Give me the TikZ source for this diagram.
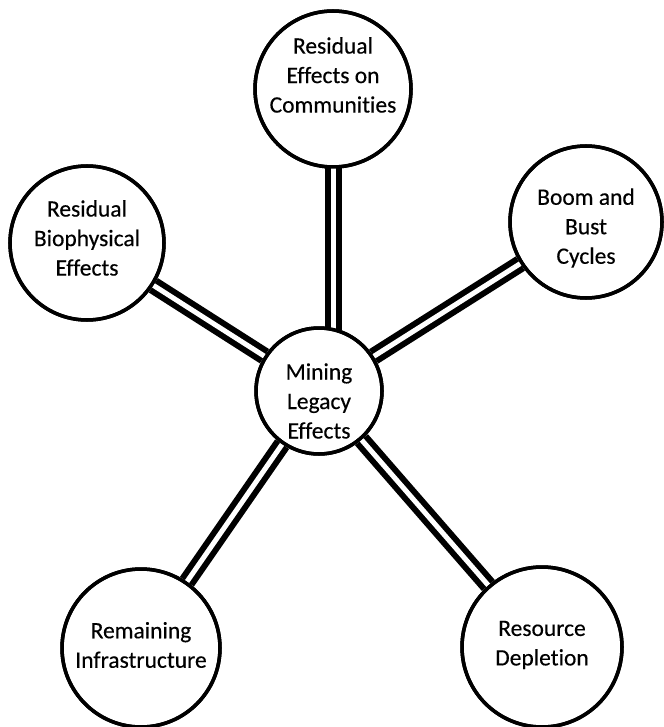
\documentclass[tikz,border=0pt]{standalone}
\usepackage{fontspec}
\setmainfont[Ligatures=NoCommon,FakeBold=0.3]{Carlito}
\begin{document}
\begin{tikzpicture}[x=1pt,y=-1pt,
  bubble/.style={circle,draw=black,line width=3.5pt,fill=white,inner sep=0pt},
  ring/.style={circle,draw=black,line width=3.5pt,inner sep=0pt},
  label/.style={align=center,font=\fontsize{23.5}{29.5}\selectfont,inner sep=0pt},
  conn/.style={draw=black,line width=6pt,double=white,double distance=5pt}]
\useasboundingbox (0,0) rectangle (663,727);
% circles
\node[bubble,minimum size=156pt] (top) at (333,89) {};
\node[bubble,minimum size=126pt] (c) at (319,391) {};
\node[bubble,minimum size=154pt] (lt) at (87,243) {};
\node[bubble,minimum size=152pt] (rt) at (586,222) {};
\node[bubble,minimum size=158pt] (lb) at (141,648) {};
\node[bubble,minimum size=160pt] (rb) at (542,647) {};
% connectors
\path (top.south) ++(0,-2) coordinate (ts);
\path (ts |- c.north) ++(0,4) coordinate (te);
\draw[conn] (ts) -- (te);
\draw[conn] (c) -- (lt);
\draw[conn] (c) -- (rt);
\draw[conn] (c) -- (lb);
\draw[conn] (c) -- (rb);
% redraw circle outlines over connector ends
\node[ring,minimum size=156pt] at (top) {};
\node[ring,minimum size=126pt] at (c) {};
\node[ring,minimum size=154pt] at (lt) {};
\node[ring,minimum size=152pt] at (rt) {};
\node[ring,minimum size=158pt] at (lb) {};
\node[ring,minimum size=160pt] at (rb) {};
% texts
\node[label] (ttop) at (333,75) {Residual\\Effects on\\Communities};
\node[label] (tc) at (319,401) {Mining\\Legacy\\Effects};
\node[label] (tlt) at (87,238) {Residual\\Biophysical\\Effects};
\node[label] (trt) at (586,228) {Boom and\\Bust\\Cycles};
\node[label] (tlb) at (141,645) {Remaining\\Infrastructure};
\node[label] (trb) at (542,645) {Resource\\Depletion};
\end{tikzpicture}
\end{document}
